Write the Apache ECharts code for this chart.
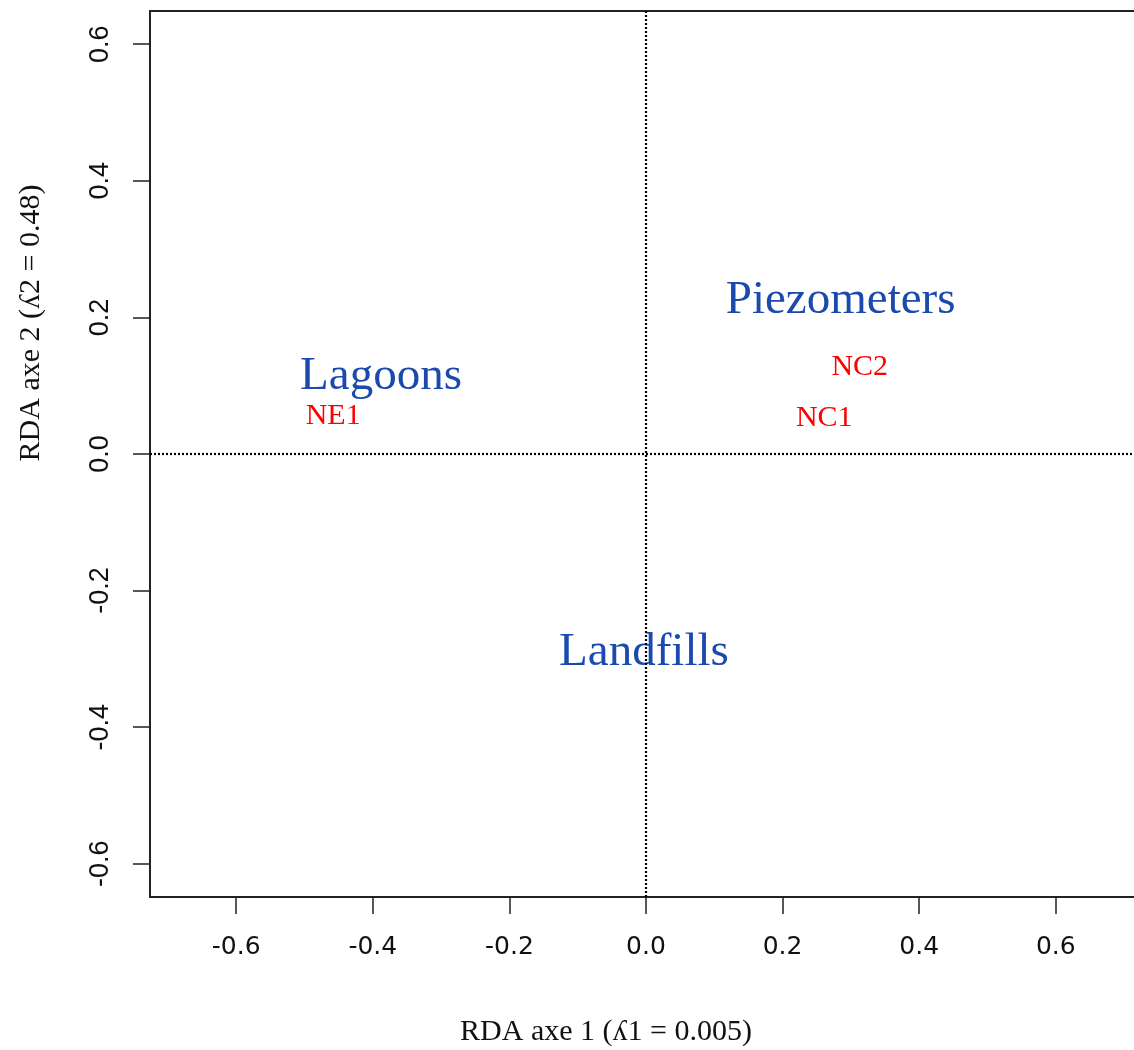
<!DOCTYPE html>
<html>
<head>
<meta charset="utf-8">
<script src="https://cdn.jsdelivr.net/npm/echarts@6/dist/echarts.min.js"></script>
<style>
  html, body { margin: 0; padding: 0; background: #fff; }
  #chart { width: 1134px; height: 1050px; }
</style>
</head>
<body>
<div id="chart"></div>
<script>
// group centroids (blue) and site scores (red)
var groupNames = ['Lagoons', 'Piezometers', 'Landfills'];
var groupX = [-0.388, 0.285, -0.003];
var groupY = [0.113, 0.225, -0.291];

var siteNames = ['NE1', 'NC2', 'NC1'];
var siteX = [-0.458, 0.313, 0.261];
var siteY = [0.056, 0.127, 0.052];

var xTicks = [-0.6, -0.4, -0.2, 0.0, 0.2, 0.4, 0.6];
var yTicks = [-0.6, -0.4, -0.2, 0.0, 0.2, 0.4, 0.6];

var xTitle = 'RDA axe 1 (ʎ1 = 0.005)';
var yTitle = 'RDA axe 2 (ʎ2 = 0.48)';

function pts(xs, ys, names) {
    return xs.map(function (x, i) { return { value: [x, ys[i]], name: names[i] }; });
}

var myChart = echarts.init(document.getElementById('chart'));

var frame = { color: '#222', width: 2 };
var xMin = -0.7262, xMax = 0.7145;

option = {
    animation: false,
    backgroundColor: '#fff',
    grid: { left: 150, right: 0, top: 11, bottom: 153 },
    xAxis: [
        {
            type: 'value', position: 'bottom',
            min: xMin, max: xMax,
            axisLine: { show: true, onZero: false, lineStyle: frame },
            splitLine: { show: false },
            axisTick: { show: true, length: 17, lineStyle: { color: '#222', width: 1.5 }, customValues: xTicks },
            axisLabel: {
                customValues: xTicks, margin: 38,
                fontFamily: 'DejaVu Sans', fontSize: 25, color: '#111',
                formatter: function (v) { return v.toFixed(1); }
            }
        },
        {
            // top edge of the box
            type: 'value', position: 'top',
            min: xMin, max: xMax,
            axisLine: { show: true, onZero: false, lineStyle: frame },
            axisTick: { show: false }, axisLabel: { show: false }, splitLine: { show: false }
        }
    ],
    yAxis: {
        type: 'value',
        min: -0.6486, max: 0.6486,
        axisLine: { show: true, onZero: false, lineStyle: frame },
        splitLine: { show: false },
        axisTick: { show: true, length: 17, lineStyle: { color: '#222', width: 1.5 }, customValues: yTicks },
        axisLabel: {
            customValues: yTicks, margin: 36, rotate: 90,
            fontFamily: 'Liberation Sans', fontSize: 27, color: '#111',
            formatter: function (v) { return v.toFixed(1); }
        }
    },
    graphic: [
        {
            type: 'text', x: 606, y: 1032,
            style: { text: xTitle, font: '30px "Liberation Serif"', fill: '#111', textAlign: 'center', textVerticalAlign: 'middle' }
        },
        {
            type: 'text', x: 31, y: 323, rotation: Math.PI / 2,
            style: { text: yTitle, font: '30px "Liberation Serif"', fill: '#111', textAlign: 'center', textVerticalAlign: 'middle' }
        }
    ],
    series: [
        {
            name: 'groups',
            type: 'scatter',
            symbolSize: 0,
            itemStyle: { opacity: 1 },
            data: pts(groupX, groupY, groupNames),
            label: {
                show: true, position: 'inside', opacity: 1,
                formatter: '{b}',
                fontFamily: 'Liberation Serif', fontSize: 47, color: '#1a4aad'
            },
            markLine: {
                silent: true,
                symbol: ['none', 'none'],
                label: { show: false },
                lineStyle: { color: '#000', type: [2, 2], width: 2.2, opacity: 1 },
                data: [{ xAxis: 0 }, { yAxis: 0 }]
            }
        },
        {
            name: 'sites',
            type: 'scatter',
            symbolSize: 0,
            itemStyle: { opacity: 1 },
            data: pts(siteX, siteY, siteNames),
            label: {
                show: true, position: 'inside', opacity: 1,
                formatter: '{b}',
                fontFamily: 'Liberation Serif', fontSize: 30, color: '#ff0000'
            }
        }
    ]
};

myChart.setOption(option);
</script>
</body>
</html>
